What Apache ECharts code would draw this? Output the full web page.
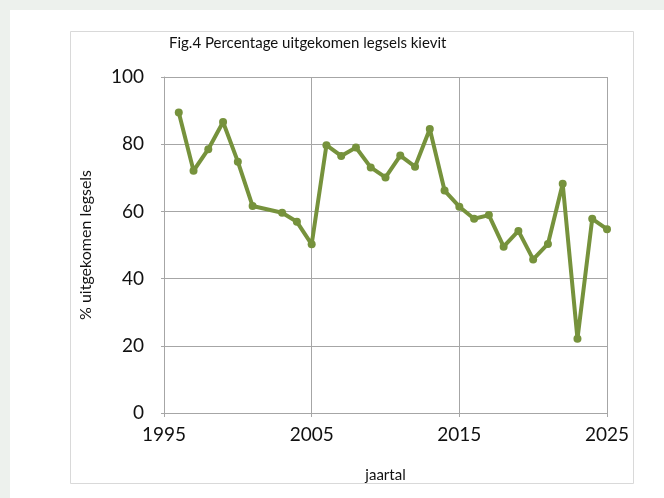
<!DOCTYPE html>
<html lang="nl">
  <head>
    <meta charset="UTF-8">
    <title>Fig.4 Percentage uitgekomen legsels kievit</title>
    <script src="https://cdn.jsdelivr.net/npm/echarts@6/dist/echarts.min.js"></script>
    <style>
      html, body { margin: 0; padding: 0; background: #fff; overflow: hidden; }
      #chart { width: 664px; height: 498px; }
    </style>
  </head>
  <body>
    <div id="chart"></div>
    <script>
      // jaren en percentages (2002 ontbreekt in de reeks)
      const years = [1996, 1997, 1998, 1999, 2000, 2001, 2003, 2004, 2005, 2006, 2007, 2008, 2009, 2010,
        2011, 2012, 2013, 2014, 2015, 2016, 2017, 2018, 2019, 2020, 2021, 2022, 2023, 2024, 2025]
      const percentages = [89.4, 72.1, 78.5, 86.6, 74.8, 61.6, 59.6, 56.9, 50.2, 79.7, 76.5, 79, 73.1, 70.1,
        76.6, 73.3, 84.5, 66.2, 61.4, 57.8, 58.9, 49.5, 54.2, 45.7, 50.3, 68.2, 22.1, 57.8, 54.7]

      const font = 'Lato, "Open Sans", sans-serif'
      const gridColor = '#a6a6a6'
      const textColor = '#111'

      const chart = echarts.init(document.getElementById('chart'))
      chart.setOption({
        backgroundColor: '#edf1ed',
        animation: false,
        textStyle: { fontFamily: font },
        graphic: [{
          // witte kaart
          type: 'rect',
          shape: { x: 10, y: 10, width: 700, height: 520 },
          style: { fill: '#fff' },
          z: -20
        }, {
          // kader om de grafiek
          type: 'rect',
          shape: { x: 70.5, y: 31.5, width: 563, height: 452 },
          style: { fill: '#fff', stroke: '#d9d9d9', lineWidth: 1 },
          z: -10
        }],
        title: {
          text: 'Fig.4 Percentage uitgekomen legsels kievit',
          left: 164,
          top: 31,
          textStyle: { fontFamily: font, fontSize: 15, fontWeight: 'normal', color: textColor }
        },
        grid: { left: 164, right: 57, top: 77, bottom: 85 },
        xAxis: {
          type: 'value',
          min: 1995,
          max: 2025,
          interval: 10,
          name: 'jaartal',
          nameLocation: 'middle',
          nameGap: 55,
          nameTextStyle: { fontSize: 15, color: textColor },
          axisLine: { show: true, lineStyle: { color: gridColor, width: 1 } },
          axisTick: { show: true, length: 4, lineStyle: { color: gridColor } },
          axisLabel: { fontSize: 19, color: textColor, margin: 12, formatter: v => String(v) },
          splitLine: { show: true, lineStyle: { color: gridColor, width: 1 } }
        },
        yAxis: {
          type: 'value',
          min: 0,
          max: 100,
          interval: 20,
          name: '% uitgekomen legsels',
          nameLocation: 'middle',
          nameGap: 70,
          nameTextStyle: { fontSize: 16, color: textColor },
          axisLine: { show: true, lineStyle: { color: gridColor, width: 1 } },
          axisTick: { show: true, length: 3, lineStyle: { color: gridColor } },
          axisLabel: { fontSize: 19, color: textColor, margin: 20 },
          splitLine: { show: true, lineStyle: { color: gridColor, width: 1 } }
        },
        series: [{
          type: 'line',
          data: years.map((y, i) => [y, percentages[i]]),
          symbol: 'circle',
          symbolSize: 8,
          lineStyle: { color: '#76923c', width: 4 },
          itemStyle: { color: '#76923c' }
        }]
      })
    </script>
  </body>
</html>
